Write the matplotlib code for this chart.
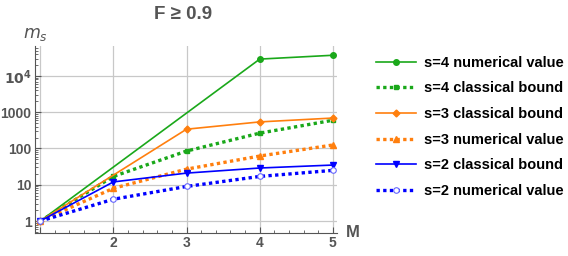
import numpy as np
import matplotlib
matplotlib.use('Agg')
import matplotlib.pyplot as plt
from matplotlib.ticker import FixedLocator, MultipleLocator

M = [1, 2, 3, 4, 5]
M_s4_numerical = [1, 4, 5]
s4_numerical = [1, 29000, 37000]
s4_classical = [1, 17, 85, 265, 600]
M_s3_classical = [1, 3, 4, 5]
s3_classical = [1, 340, 540, 690]
s3_numerical = [1, 8, 27, 62, 125]
s2_classical = [1, 12, 21, 29, 35]
s2_numerical = [1, 4, 9, 17, 25]

green = '#1aa81a'
orange = '#ff7f0e'
blue = '#0000ff'
gray = '#555555'

plt.rcParams['font.family'] = ['Liberation Sans', 'DejaVu Sans']

fig = plt.figure(figsize=(5.68, 2.56), dpi=100)
ax = fig.add_axes([0.0616, 0.0898, 0.531, 0.730])

dot = (0, (1, 1))
ax.plot(M_s4_numerical, s4_numerical, color=green, lw=1.2, marker='o', ms=4, label='s=4 numerical value')
ax.plot(M, s4_classical, color=green, lw=2.4, ls=dot, marker='s', ms=3.5, label='s=4 classical bound')
ax.plot(M_s3_classical, s3_classical, color=orange, lw=1.2, marker='D', ms=3.5, label='s=3 classical bound')
ax.plot(M, s3_numerical, color=orange, lw=2.4, ls=dot, marker='^', ms=4, label='s=3 numerical value')
ax.plot(M, s2_classical, color=blue, lw=1.2, marker='v', ms=4, label='s=2 classical bound')
ax.plot(M, s2_numerical, color=blue, lw=2.4, ls=dot, marker='o', ms=4, mfc='white', mec='#6666ff', mew=0.8,
        label='s=2 numerical value')

ax.set_yscale('log')
ax.set_ylim(0.47, 66000)
ax.set_xlim(0.93, 5.05)

ax.yaxis.set_major_locator(FixedLocator([1, 10, 100, 1000, 10000]))
ax.set_yticklabels(['1', '10', '100', '1000', r'$\mathbf{10^4}$'])
ax.yaxis.set_minor_locator(matplotlib.ticker.LogLocator(subs=np.arange(2, 10)))
ax.yaxis.set_minor_formatter(matplotlib.ticker.NullFormatter())
ax.xaxis.set_major_locator(FixedLocator([1, 2, 3, 4, 5]))
ax.set_xticklabels(['', '2', '3', '4', '5'])
ax.xaxis.set_minor_locator(MultipleLocator(0.2))

ax.grid(True, which='major', color='#c8c8c8', lw=0.9)
for side in ['top', 'right']:
    ax.spines[side].set_visible(False)
for side in ['left', 'bottom']:
    ax.spines[side].set_color(gray)
ax.tick_params(which='both', direction='in', colors=gray, labelsize=10, pad=2.5)
ax.tick_params(which='major', length=4)
ax.tick_params(which='minor', length=2)
for lab in ax.get_xticklabels() + ax.get_yticklabels():
    lab.set_fontweight('bold')

fig.text(0.322, 0.945, 'F \u2265 0.9', color=gray, fontsize=13.5, fontweight='bold', ha='center', va='center')
fig.text(0.062, 0.865, '$m_s$', color=gray, fontsize=12.5, ha='center', va='center')
fig.text(0.622, 0.09, 'M', color=gray, fontsize=12, fontweight='bold', ha='center', va='center')

leg = fig.legend(loc='upper left', bbox_to_anchor=(0.652, 0.805), frameon=False,
                 prop={'weight': 'bold', 'size': 10.5}, handlelength=2.7, labelspacing=0.8,
                 handletextpad=0.6, borderaxespad=0)

fig.savefig('out.png', dpi=100)
